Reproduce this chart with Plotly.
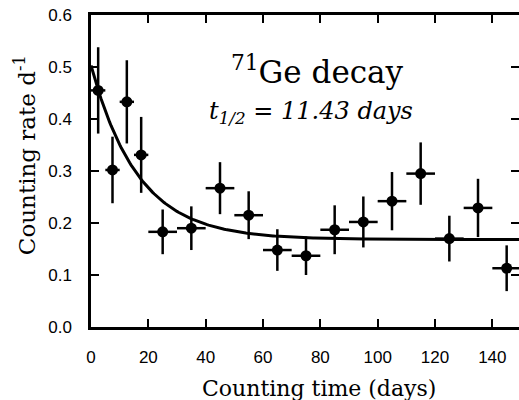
import numpy as np
import plotly.graph_objects as go

# Data
time_days = [2.5, 7.5, 12.5, 17.5, 25, 35, 45, 55, 65, 75, 85, 95, 105, 115, 125, 135, 145]
rate = [0.455, 0.302, 0.433, 0.331, 0.183, 0.190, 0.267, 0.215, 0.148, 0.137, 0.187, 0.202, 0.242, 0.295, 0.170, 0.229, 0.113]
rate_err = [0.083, 0.064, 0.080, 0.073, 0.043, 0.042, 0.050, 0.046, 0.040, 0.037, 0.047, 0.049, 0.056, 0.060, 0.044, 0.056, 0.044]
time_err = [2.5, 2.5, 2.5, 2.5, 5, 5, 5, 5, 5, 5, 5, 5, 5, 5, 5, 5, 5]

# Fit parameters (half-life from the chart label)
half_life = 11.43
fit_amplitude = 0.335
fit_background = 0.168

x_ticks = [0, 20, 40, 60, 80, 100, 120, 140]
y_ticks = [0.0, 0.1, 0.2, 0.3, 0.4, 0.5, 0.6]

t_fit = np.linspace(0, 150, 301)
y_fit = fit_amplitude * np.exp(-np.log(2) / half_life * t_fit) + fit_background

fig = go.Figure()
fig.add_trace(go.Scatter(x=t_fit, y=y_fit, mode="lines",
                         line=dict(color="black", width=3), hoverinfo="skip"))
fig.add_trace(go.Scatter(
    x=time_days, y=rate, mode="markers",
    marker=dict(color="black", size=11),
    error_y=dict(type="data", array=rate_err, color="black", thickness=2.5, width=0),
    error_x=dict(type="data", array=time_err, color="black", thickness=2.5, width=0),
))

serif = "DejaVu Serif"
tickfont = dict(family="Liberation Sans", size=17, color="black")

fig.update_layout(
    width=519, height=400,
    margin=dict(l=91, r=0, t=15, b=73),
    paper_bgcolor="white", plot_bgcolor="white",
    showlegend=False,
    xaxis=dict(range=[0, 149.3], tickvals=x_ticks, ticks="inside", ticklen=8, tickwidth=1.5,
               tickcolor="black", showline=True, linecolor="black", linewidth=2.5,
               mirror="ticks", showgrid=False, zeroline=False, tickfont=tickfont,
               ticklabelstandoff=13, automargin=False),
    yaxis=dict(range=[0, 0.6], tickvals=y_ticks, tickformat=".1f", ticks="inside", ticklen=8,
               tickwidth=1.5, tickcolor="black", showline=True, linecolor="black", linewidth=2.5,
               mirror="ticks", showgrid=False, zeroline=False, tickfont=tickfont,
               ticklabelstandoff=13, automargin=False),
    annotations=[
        dict(text="<sup>71</sup>Ge decay", x=79, y=0.494, xref="x", yref="y", showarrow=False,
             xanchor="center", yanchor="middle",
             font=dict(family=serif, size=31, color="black")),
        dict(text="<i>t<sub>1/2</sub> = 11.43 days</i>", x=76.7, y=0.412, xref="x", yref="y",
             showarrow=False, xanchor="center", yanchor="middle",
             font=dict(family=serif, size=24, color="black")),
        dict(text="Counting time (days)", x=0.533, y=-0.196, xref="paper", yref="paper",
             showarrow=False, xanchor="center", yanchor="middle",
             font=dict(family=serif, size=22, color="black")),
        dict(text="Counting rate d<sup>-1</sup>", x=-0.154, y=0.551, xref="paper", yref="paper",
             showarrow=False, textangle=-90, xanchor="center", yanchor="middle",
             font=dict(family=serif, size=23, color="black")),
    ],
)

fig.write_html("out.html", config={"displayModeBar": False},
               post_script="document.body.style.margin='0';")
